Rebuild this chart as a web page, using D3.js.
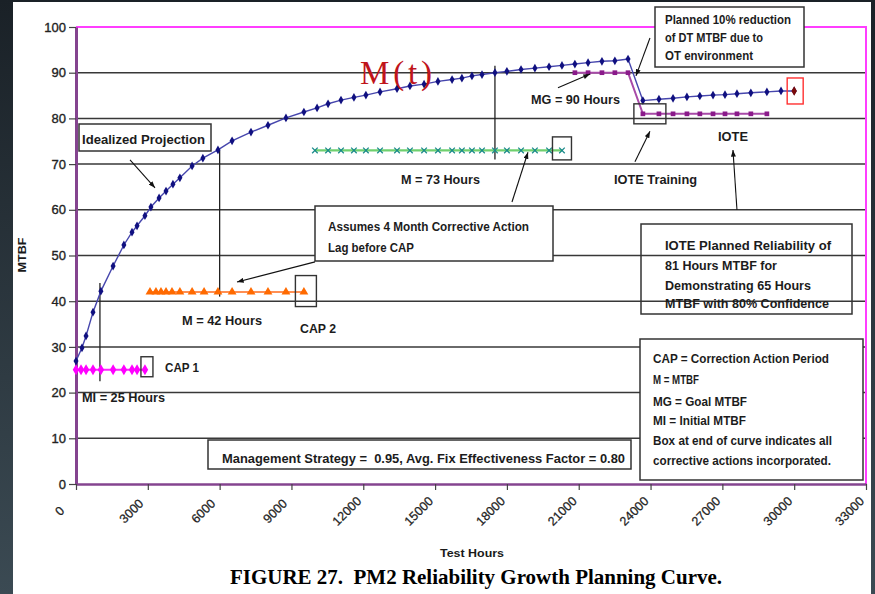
<!DOCTYPE html>
<html>
<head>
<meta charset="utf-8">
<script src="https://cdn.jsdelivr.net/npm/d3@7"></script>
<style>
  html, body { margin: 0; padding: 0; background: #222b31; overflow: hidden; }
  svg { display: block; }
</style>
</head>
<body>
<svg id="chart" width="875" height="594"></svg>
<script>
// ---- Data -------------------------------------------------------------
// Idealized projection M(t): test hours and MTBF
const curveHours = [0, 250, 420, 710, 1040, 1550, 2000, 2340, 2550, 2880, 3130, 3470, 3760, 4050, 4340,
  4850, 5300, 5930, 6520, 7310, 8020, 8770, 9520, 10070, 10530, 11070, 11610, 12110, 12700, 13410,
  13950, 14540, 15120, 15710, 16120, 16540, 16960, 17500, 18000, 18590, 19170, 19760, 20300, 20840,
  21390, 21970, 22510, 23060, 23680, 24350, 24940, 25520, 26060, 26610, 27110, 27610, 28190, 28860,
  29450, 30000];
const curveMtbf = [26.9, 29.8, 32.4, 37.6, 42.2, 47.7, 52.3, 55.1, 56.5, 58.7, 60.6, 62.6, 64.1, 65.6, 67.0,
  69.6, 71.3, 73.1, 75.1, 77.0, 78.5, 80.1, 81.4, 82.3, 83.2, 84.0, 84.6, 85.1, 85.8, 86.5,
  87.1, 87.5, 88.1, 88.5, 88.8, 89.3, 89.6, 90.0, 90.3, 90.7, 91.0, 91.3, 91.6, 91.9,
  92.2, 92.5, 92.6, 93.0, 83.9, 84.2, 84.4, 84.7, 84.9, 85.1, 85.2, 85.4, 85.6, 85.8,
  86.0, 86.0];

// CAP 1 step: initial MTBF (MI = 25)
const miHours = [0, 210, 420, 710, 1040, 1550, 2000, 2340, 2550, 2880];
const miMtbf  = [25, 25, 25, 25, 25, 25, 25, 25, 25, 25];

// CAP 2 step: M = 42
const m42Hours = [3090, 3340, 3550, 3760, 4010, 4340, 4850, 5350, 5930, 6520, 7310, 8020, 8770, 9520];
const m42Mtbf  = [42, 42, 42, 42, 42, 42, 42, 42, 42, 42, 42, 42, 42, 42];

// CAP 3 step: M = 73
const m73Hours = [9980, 10530, 11070, 11610, 12110, 12700, 13410, 13950, 14540, 15120, 15710, 16120,
  16540, 16960, 17500, 18000, 18590, 19170, 19760, 20300];
const m73Mtbf  = [73, 73, 73, 73, 73, 73, 73, 73, 73, 73, 73, 73, 73, 73, 73, 73, 73, 73, 73, 73];

// Goal MTBF (MG = 90) followed by the IOTE planned level (81)
const mgHours = [20840, 21390, 21970, 22510, 23060, 23680, 24350, 24940, 25520, 26060, 26610, 27110,
  27610, 28190, 28860];
const mgMtbf  = [90, 90, 90, 90, 90, 81, 81, 81, 81, 81, 81, 81, 81, 81, 81];

// Corrective action period markers: hours, low MTBF, high MTBF
const capHours = [1000, 6000, 17500];
const capLow   = [22.5, 41, 71];
const capHigh  = [44, 73, 91.5];

// Axis ticks
const xTicks = [0, 3000, 6000, 9000, 12000, 15000, 18000, 21000, 24000, 27000, 30000, 33000];
const yTicks = [0, 10, 20, 30, 40, 50, 60, 70, 80, 90, 100];

// ---- Setup ------------------------------------------------------------
const svg = d3.select('#chart');
const SANS = '"Liberation Sans Narrow", "Arial Narrow", "Liberation Sans", Arial, sans-serif';
const WIDE = '"Liberation Sans", Arial, sans-serif';
const SERIF = '"Liberation Serif", "Times New Roman", serif';

const x = d3.scaleLinear().domain([0, 33000]).range([76, 866]);
const y = d3.scaleLinear().domain([0, 100]).range([484, 27]);

const defs = svg.append('defs');
const bg = defs.append('linearGradient').attr('id', 'bg').attr('x1', 0).attr('y1', 0).attr('x2', 0).attr('y2', 1);
bg.append('stop').attr('offset', '0%').attr('stop-color', '#1a2127');
bg.append('stop').attr('offset', '100%').attr('stop-color', '#3b4a53');

defs.append('marker').attr('id', 'arrow')
  .attr('viewBox', '0 0 8 6').attr('refX', 8).attr('refY', 3)
  .attr('markerWidth', 7).attr('markerHeight', 5).attr('markerUnits', 'userSpaceOnUse')
  .attr('orient', 'auto')
  .append('path').attr('d', 'M0,0 L8,3 L0,6 Z').attr('fill', '#111');

// slide background and white page
svg.append('rect').attr('width', 875).attr('height', 594).attr('fill', 'url(#bg)');
svg.append('rect').attr('x', 13).attr('y', 2).attr('width', 858).attr('height', 592).attr('fill', '#fff');

// ---- Grid & frame ------------------------------------------------------
const [x0, x1] = x.range();
svg.append('g').selectAll('line')
  .data(yTicks.filter(v => v > 0 && v < 100))
  .join('line')
  .attr('x1', x0).attr('x2', x1)
  .attr('y1', d => y(d)).attr('y2', d => y(d))
  .attr('stroke', '#383838').attr('stroke-width', 1.5);

svg.append('path')
  .attr('d', `M${x0},${y(100)} H${x1} V${y(0)}`)
  .attr('fill', 'none').attr('stroke', '#ff3dff').attr('stroke-width', 2);

// y axis
const yAxis = svg.append('g').attr('transform', `translate(${x0},0)`)
  .call(d3.axisLeft(y).tickValues(yTicks).tickSize(7).tickSizeOuter(0).tickPadding(3).tickFormat(d3.format('d')));
yAxis.select('.domain').attr('stroke', '#84448f').attr('stroke-width', 3);
yAxis.selectAll('.tick line').attr('stroke', '#444').attr('stroke-width', 1.2);
yAxis.selectAll('.tick text').attr('font-family', WIDE).attr('font-size', 13).attr('fill', '#222')
  .attr('stroke', '#222').attr('stroke-width', 0.35);

// x axis: labels rotated, centred slightly left of each tick
const xAxis = svg.append('g').attr('transform', `translate(0,${y(0)})`)
  .call(d3.axisBottom(x).tickValues(xTicks).tickSize(6).tickSizeOuter(0).tickFormat(d3.format('d')));
xAxis.select('.domain').attr('stroke', '#84448f').attr('stroke-width', 2.5);
xAxis.selectAll('.tick line').attr('stroke', '#444').attr('stroke-width', 1.2);
xAxis.selectAll('.tick text')
  .attr('font-family', WIDE).attr('font-size', 12.5).attr('fill', '#222')
  .attr('stroke', '#222').attr('stroke-width', 0.25)
  .attr('text-anchor', 'middle')
  .attr('x', 0).attr('y', 0).attr('dy', '0.35em')
  .attr('transform', 'translate(-17,27) rotate(-45)');

// axis titles
svg.append('text').text('MTBF')
  .attr('transform', 'translate(26,255) rotate(-90)')
  .attr('text-anchor', 'middle').attr('font-family', SANS).attr('font-weight', 'bold')
  .attr('font-size', 11).attr('fill', '#1a1a1a')
  .attr('textLength', 35).attr('lengthAdjust', 'spacingAndGlyphs');

svg.append('text').text('Test Hours')
  .attr('x', 472).attr('y', 557).attr('text-anchor', 'middle')
  .attr('font-family', SANS).attr('font-weight', 'bold').attr('font-size', 11).attr('fill', '#1a1a1a')
  .attr('textLength', 64).attr('lengthAdjust', 'spacingAndGlyphs');

svg.append('text').text('FIGURE 27.  PM2 Reliability Growth Planning Curve.')
  .attr('x', 476).attr('y', 584).attr('text-anchor', 'middle')
  .attr('font-family', SERIF).attr('font-weight', 'bold').attr('font-size', 20).attr('fill', '#000')
  .attr('textLength', 492).attr('lengthAdjust', 'spacingAndGlyphs')
  .style('white-space', 'pre');

// ---- Series -------------------------------------------------------------
const zip = (a, b) => a.map((v, i) => [v, b[i]]);
const line = d3.line().x(d => x(d[0])).y(d => y(d[1]));

function drawSeries(pts, opt) {
  const g = svg.append('g');
  g.append('path').attr('d', line(pts)).attr('fill', 'none')
    .attr('stroke', opt.line).attr('stroke-width', opt.width);
  g.selectAll('path.pt').data(pts).join('path').attr('class', 'pt')
    .attr('transform', d => `translate(${x(d[0])},${y(d[1])})`)
    .attr('d', d3.symbol().type(opt.symbol).size(opt.size))
    .attr('fill', opt.stroked ? 'none' : opt.marker)
    .attr('stroke', opt.stroked ? opt.marker : 'none')
    .attr('stroke-width', opt.stroked ? 1.3 : 0);
  return g;
}

// CAP markers (vertical lines)
svg.append('g').selectAll('line').data(capHours).join('line')
  .attr('x1', d => x(d)).attr('x2', d => x(d))
  .attr('y1', (d, i) => y(capHigh[i])).attr('y2', (d, i) => y(capLow[i]))
  .attr('stroke', '#222').attr('stroke-width', 1.3);

drawSeries(zip(m73Hours, m73Mtbf), { line: '#6fd06f', width: 2.2, marker: '#1a8a8a', symbol: d3.symbolX, size: 22, stroked: true });
drawSeries(zip(m42Hours, m42Mtbf), { line: '#ff6a1a', width: 1.5, marker: '#ff6a00', symbol: d3.symbolTriangle, size: 34 });
drawSeries(zip(miHours, miMtbf), { line: '#ff22ff', width: 2.2, marker: '#ff00ff', symbol: d3.symbolDiamond, size: 36 });
drawSeries(zip(mgHours, mgMtbf), { line: '#a84aa8', width: 2, marker: '#8a1a8a', symbol: d3.symbolSquare, size: 22 });
const curvePts = zip(curveHours, curveMtbf);
drawSeries(curvePts, { line: '#4646ad', width: 1.4, marker: '#101080', symbol: d3.symbolDiamond, size: 22 });

// emphasise last curve point
const lastPt = curvePts[curvePts.length - 1];
svg.append('path')
  .attr('transform', `translate(${x(lastPt[0])},${y(lastPt[1])})`)
  .attr('d', d3.symbol().type(d3.symbolDiamond).size(26)).attr('fill', '#7a0a0a');

// boxes around end points of each step
function endBox(pt, w, h, dx, dy, color) {
  svg.append('rect')
    .attr('x', x(pt[0]) - w / 2 + dx).attr('y', y(pt[1]) - h / 2 + dy)
    .attr('width', w).attr('height', h)
    .attr('fill', 'none').attr('stroke', color).attr('stroke-width', 1.4);
}
endBox([miHours[miHours.length - 1], miMtbf[miMtbf.length - 1]], 12, 20, 2, -3, '#333');
endBox([m42Hours[m42Hours.length - 1], m42Mtbf[m42Mtbf.length - 1]], 21, 31, 2, -1, '#333');
endBox([m73Hours[m73Hours.length - 1], m73Mtbf[m73Mtbf.length - 1]], 19, 23, 0, -2, '#333');
endBox([mgHours[5], mgMtbf[5]], 32, 20, 7, 0, '#333');
endBox(lastPt, 16, 26, 1, 0, '#ff3030');

// ---- Annotations ------------------------------------------------------
function box(x0, y0, w, h, fill) {
  svg.append('rect').attr('x', x0).attr('y', y0).attr('width', w).attr('height', h)
    .attr('fill', fill ? '#fff' : 'none').attr('stroke', '#333').attr('stroke-width', 1.5);
}
function label(txt, xs, yb, len, size) {
  svg.append('text').text(txt)
    .attr('x', xs).attr('y', yb)
    .attr('font-family', SANS).attr('font-weight', 'bold')
    .attr('font-size', size || 13).attr('fill', '#1c1c1c')
    .attr('textLength', len).attr('lengthAdjust', 'spacingAndGlyphs')
    .style('white-space', 'pre');
}
function arrow(t0, v0, t1, v1) {
  svg.append('line')
    .attr('x1', x(t0)).attr('y1', y(v0)).attr('x2', x(t1)).attr('y2', y(v1))
    .attr('stroke', '#111').attr('stroke-width', 1.1).attr('marker-end', 'url(#arrow)');
}

box(79, 124, 132, 27, true);
label('Idealized Projection', 82, 144, 123);

svg.append('text').text('M(t)')
  .attr('x', 360).attr('y', 84)
  .attr('font-family', SERIF).attr('font-size', 33).attr('fill', '#c0141b')
  .attr('textLength', 72).attr('lengthAdjust', 'spacing');

box(655, 7, 149, 60, true);
label('Planned 10% reduction', 665, 24, 126, 12);
label('of DT MTBF due to', 665, 42, 98, 12);
label('OT environment', 665, 60, 88, 12);

label('MG = 90 Hours', 531, 104, 89);
label('IOTE', 718, 141, 30);
label('IOTE Training', 614, 184, 83);
label('M = 73 Hours', 401, 184, 79);

box(315, 206, 238, 55, true);
label('Assumes 4 Month Corrective Action', 328, 231, 201);
label('Lag before CAP', 328, 252, 86);

box(641, 224, 211, 90, false);
label('IOTE Planned Reliability of', 665, 250, 166);
label('81 Hours MTBF for', 665, 270, 112);
label('Demonstrating 65 Hours', 665, 290, 146);
label('MTBF with 80% Confidence', 665, 308, 164);

label('M = 42 Hours', 182, 325, 80);
label('CAP 2', 300, 333, 36);
label('CAP 1', 165, 372, 34);
label('MI = 25 Hours', 82, 402, 83);

box(640, 339, 223, 141, true);
label('CAP = Correction Action Period', 653, 363, 176);
label('M = MTBF', 653, 384, 46);
label('MG = Goal MTBF', 653, 406, 94);
label('MI = Initial MTBF', 653, 425, 93);
label('Box at end of curve indicates all', 653, 445, 179);
label('corrective actions incorporated.', 653, 465, 178);

box(208, 440, 423, 29, true);
label('Management Strategy =  0.95, Avg. Fix Effectiveness Factor = 0.80', 222, 463, 403);

// arrows (data coordinates)
arrow(2256, 70.9, 3300, 64.8);
arrow(9983, 48.6, 6725, 44.2);
arrow(18212, 61.7, 18880, 72.6);
arrow(20133, 86.7, 21470, 89.7);
arrow(23976, 97.6, 23391, 89.3);
arrow(23349, 70.5, 23976, 77.2);
arrow(27610, 60.0, 27443, 73.1);
</script>
</body>
</html>
